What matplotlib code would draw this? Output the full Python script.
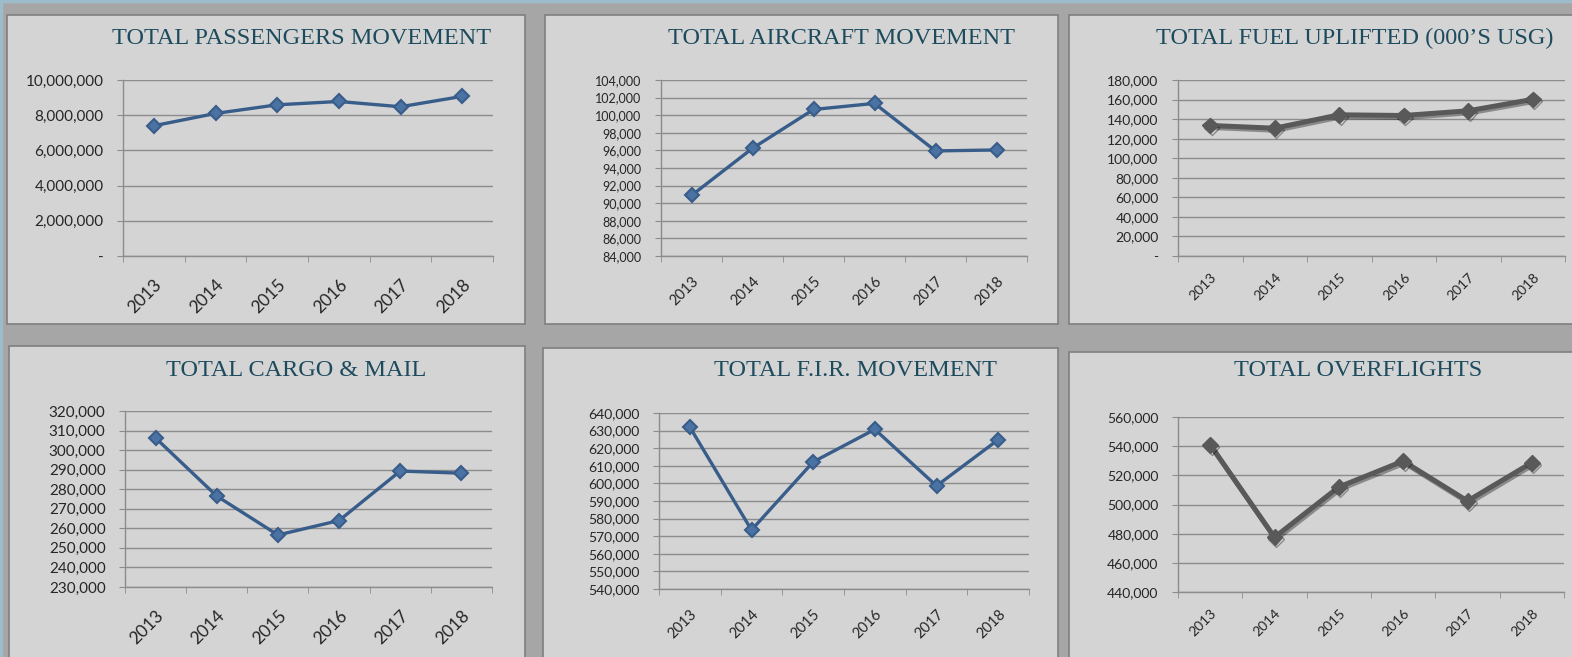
import matplotlib
matplotlib.use('Agg')
import matplotlib.pyplot as plt
import matplotlib.patheffects as pe
from matplotlib.patches import Rectangle
from matplotlib.ticker import FuncFormatter, FixedLocator

W, H = 1572, 657

years = ['2013', '2014', '2015', '2016', '2017', '2018']
passengers = [7400000, 8100000, 8590000, 8780000, 8480000, 9070000]
aircraft = [90880, 96240, 100650, 101340, 95940, 96050]
fuel = [133500, 130700, 144400, 143700, 148500, 160200]
cargo = [306200, 276500, 256600, 264000, 289300, 288200]
fir = [632000, 573500, 612200, 630700, 598600, 624800]
overflights = [541000, 477500, 512000, 529800, 502400, 528700]

titles = ['TOTAL PASSENGERS MOVEMENT', 'TOTAL AIRCRAFT MOVEMENT', 'TOTAL FUEL UPLIFTED (000\u2019S USG)',
          'TOTAL CARGO & MAIL', 'TOTAL F.I.R. MOVEMENT', 'TOTAL OVERFLIGHTS']

BLUE = '#385d8a'
GREY = '#595959'
GRID = '#8c8c8c'
TITLE_C = '#1d4b5e'


def fig_box(x0, y0, x1, y1):
    # pixel box (top-left origin) -> figure fraction [l, b, w, h]
    return [x0 / W, 1 - y1 / H, (x1 - x0) / W, (y1 - y0) / H]


def thousands(v, pos):
    if v == 0:
        return '-'
    return '{:,.0f}'.format(v)


fig = plt.figure(figsize=(W / 100, H / 100), dpi=100, facecolor='#a6a6a6')

# light blue frame strips
fig.patches.append(Rectangle((0, 1 - 2 / H), 1, 2 / H, transform=fig.transFigure, color='#9dbccb', zorder=0))
fig.patches.append(Rectangle((0, 0), 2 / W, 1, transform=fig.transFigure, color='#9dbccb', zorder=0))

# panel boxes
panels = [(7, 15, 525, 324), (545, 15, 1058, 324), (1069, 15, 1580, 324),
          (9, 346, 525, 665), (543, 348, 1058, 665), (1069, 352, 1580, 665)]
for (x0, y0, x1, y1) in panels:
    l, b, w, h = fig_box(x0, y0, x1, y1)
    fig.patches.append(Rectangle((l, b), w, h, transform=fig.transFigure, facecolor='#d4d4d4',
                                 edgecolor='#7f7f7f', linewidth=1.2, zorder=1))

# plot areas (pixels)
areas = [(123, 80, 493, 256), (661, 80, 1027, 256), (1178, 80, 1565, 256),
         (125, 411, 492, 587), (659, 413, 1029, 589), (1178, 417, 1564, 592)]
title_pos = [(302, 38), (842, 38), (1355, 38), (296, 371), (855, 371), (1358, 371)]

series = [passengers, aircraft, fuel, cargo, fir, overflights]
ylims = [(0, 10000000, 2000000), (84000, 104000, 2000), (0, 180000, 20000),
         (230000, 320000, 10000), (540000, 640000, 10000), (440000, 560000, 20000)]
colors = [BLUE, BLUE, GREY, BLUE, BLUE, GREY]
ysize = [11, 9, 10, 11, 10, 10]
xsize = [12.5, 10.5, 10, 12.5, 10.5, 10]
xpad = [15, 13, 11, 15, 13, 11]

for i in range(6):
    ax = fig.add_axes(fig_box(*areas[i]))
    ax.set_zorder(2)
    ax.set_facecolor('none')
    lo, hi, step = ylims[i]
    vals = series[i]
    x = list(range(len(years)))
    if colors[i] == GREY:
        ax.plot(x, vals, color=GREY, lw=3.6, marker='D', ms=8, mfc=GREY, mec=GREY, zorder=3,
                path_effects=[pe.SimpleLineShadow(offset=(1, -1.5), alpha=0.35), pe.Normal()])
    else:
        ax.plot(x, vals, color=BLUE, lw=2.4, marker='D', ms=7.5, mfc='#4a73a3', mec=BLUE, mew=1.5, zorder=3)

    ax.set_xlim(-0.5, 5.5)
    ax.set_ylim(lo, hi)
    ticks = list(range(lo, hi + 1, step))
    ax.set_yticks(ticks)
    ax.yaxis.set_major_formatter(FuncFormatter(thousands))
    ax.grid(axis='y', color=GRID, lw=1.0)
    ax.set_axisbelow(True)
    for s in ['top', 'right']:
        ax.spines[s].set_visible(False)
    for s in ['left', 'bottom']:
        ax.spines[s].set_color(GRID)
        ax.spines[s].set_linewidth(1.0)

    ax.set_xticks(x)
    ax.set_xticklabels(years, rotation=45, ha='right', rotation_mode='anchor')
    ax.xaxis.set_minor_locator(FixedLocator([k - 0.5 for k in range(7)]))
    ax.tick_params(axis='x', which='major', length=0, pad=xpad[i], labelsize=xsize[i], labelcolor='#262626')
    ax.tick_params(axis='x', which='minor', length=4, color=GRID, direction='out')
    ax.tick_params(axis='y', length=4, color=GRID, pad=10, labelsize=ysize[i], labelcolor='#262626')
    for lab in ax.get_xticklabels() + ax.get_yticklabels():
        lab.set_family(['Lato', 'DejaVu Sans'])

    tx, ty = title_pos[i]
    fig.text(tx / W, 1 - ty / H, titles[i], ha='center', va='center', fontsize=17.5,
             family=['Liberation Serif', 'DejaVu Serif'], color=TITLE_C, zorder=3)

plt.savefig('out.png', dpi=100, facecolor=fig.get_facecolor())
